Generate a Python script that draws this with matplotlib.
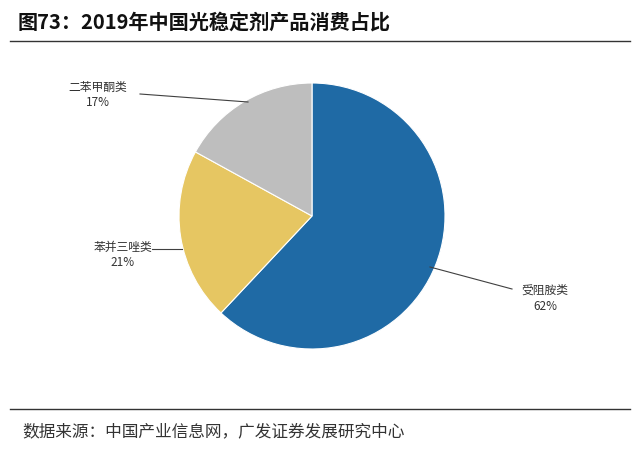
import matplotlib
matplotlib.use("Agg")
import matplotlib.pyplot as plt
import numpy as np

plt.rcParams['font.family'] = ['Noto Sans CJK SC', 'DejaVu Sans']

categories = ["受阻胺类", "苯并三唑类", "二苯甲酮类"]
values = [62, 21, 17]
colors = ["#1F6AA5", "#E6C662", "#BEBEBE"]

W, H = 640, 456
fig = plt.figure(figsize=(6.4, 4.56), dpi=100)
cx, cy, r = 312, 217, 133
ax = fig.add_axes([(cx - r) / W, (H - cy - r) / H, 2 * r / W, 2 * r / H])
wedges, _ = ax.pie(values, colors=colors, startangle=90, counterclock=False,
                   wedgeprops=dict(edgecolor="white", linewidth=0.8))
ax.set_aspect("equal")
ax.set_xlim(-1, 1); ax.set_ylim(-1, 1)

def fx(x): return x / W
def fy(y): return 1 - y / H

# label annotations (figure pixel coordinates)
labels = [
    (f"{categories[0]}\n{values[0]}%", (545, 298), [(430, 268), (512, 290)]),
    (f"{categories[1]}\n{values[1]}%", (123, 255), [(182, 250), (152, 250)]),
    (f"{categories[2]}\n{values[2]}%", (98, 95), [(248, 103), (140, 95)]),
]
for txt, (tx, ty), pts in labels:
    fig.lines.append(plt.Line2D([fx(p[0]) for p in pts], [fy(p[1]) for p in pts],
                                transform=fig.transFigure, color="#404040", lw=0.8))
    fig.text(fx(tx), fy(ty), txt, ha="center", va="center", fontsize=8.5, color="#333333",
             linespacing=1.3)

fig.text(fx(18), fy(22), "图73：2019年中国光稳定剂产品消费占比", fontsize=14.5,
         fontweight="bold", va="center", ha="left", color="#111111")
fig.lines.append(plt.Line2D([fx(10), fx(630)], [fy(42), fy(42)], transform=fig.transFigure,
                            color="#333333", lw=1))
fig.lines.append(plt.Line2D([fx(10), fx(630)], [fy(410), fy(410)], transform=fig.transFigure,
                            color="#333333", lw=1))
fig.text(fx(22), fy(432), "数据来源：中国产业信息网，广发证券发展研究中心", fontsize=12,
         va="center", ha="left", color="#333333")

fig.savefig("out.png", dpi=100, facecolor="white")
